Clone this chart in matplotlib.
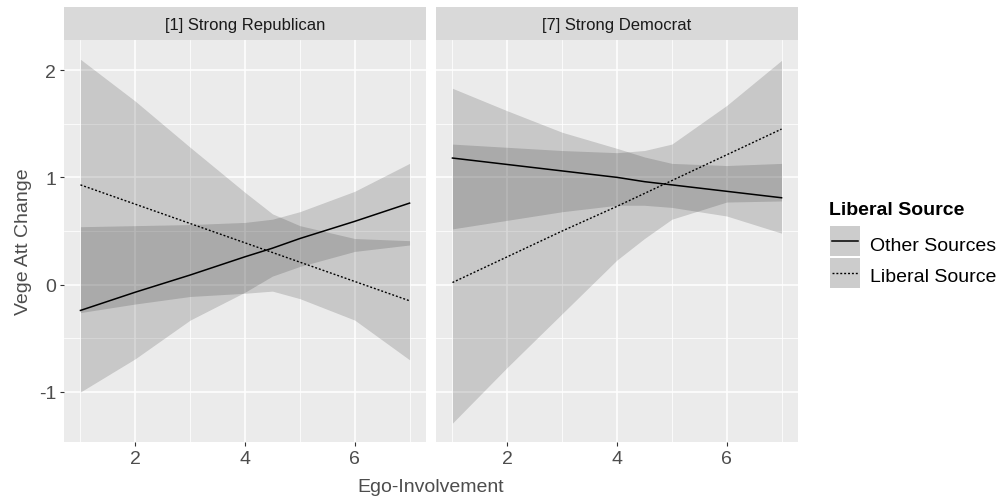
import matplotlib.pyplot as plt
from matplotlib.patches import Rectangle
from matplotlib.lines import Line2D

plt.rcParams['font.family'] = ['Liberation Sans', 'DejaVu Sans']

panels = ['[1] Strong Republican', '[7] Strong Democrat']
ego = [1, 2, 3, 4, 4.5, 5, 6, 7]

# [1] Strong Republican
rep_other = [-0.24, -0.07, 0.09, 0.26, 0.34, 0.43, 0.59, 0.76]
rep_other_hi = [0.54, 0.55, 0.56, 0.58, 0.61, 0.68, 0.87, 1.13]
rep_other_lo = [-1.00, -0.69, -0.33, -0.07, 0.08, 0.17, 0.31, 0.37]
rep_lib = [0.93, 0.75, 0.57, 0.39, 0.30, 0.21, 0.03, -0.15]
rep_lib_hi = [2.10, 1.71, 1.28, 0.86, 0.66, 0.55, 0.43, 0.41]
rep_lib_lo = [-0.26, -0.18, -0.11, -0.08, -0.06, -0.13, -0.33, -0.70]

# [7] Strong Democrat
dem_other = [1.18, 1.12, 1.06, 1.00, 0.96, 0.93, 0.87, 0.81]
dem_other_hi = [1.83, 1.62, 1.42, 1.27, 1.19, 1.13, 1.11, 1.13]
dem_other_lo = [0.52, 0.60, 0.68, 0.74, 0.74, 0.72, 0.64, 0.48]
dem_lib = [0.02, 0.26, 0.50, 0.73, 0.85, 0.97, 1.21, 1.45]
dem_lib_hi = [1.31, 1.28, 1.25, 1.23, 1.25, 1.31, 1.67, 2.09]
dem_lib_lo = [-1.29, -0.77, -0.27, 0.23, 0.43, 0.61, 0.77, 0.78]

series = [
    (rep_other, rep_other_lo, rep_other_hi, rep_lib, rep_lib_lo, rep_lib_hi),
    (dem_other, dem_other_lo, dem_other_hi, dem_lib, dem_lib_lo, dem_lib_hi),
]
legend_labels = ['Other Sources', 'Liberal Source']

W, H = 1002, 502
fig = plt.figure(figsize=(W / 100, H / 100), dpi=100)
lefts = [64, 436]
pw = 362
top, bottom = 41, 443
dotted = (0, (1.4, 1.4))


def fx(px):
    return px / W


def fy(py):
    return 1 - py / H


for i, (name, s) in enumerate(zip(panels, series)):
    ax = fig.add_axes([fx(lefts[i]), fy(bottom), pw / W, (bottom - top) / H])
    ax.set_facecolor('#EBEBEB')
    for sp in ax.spines.values():
        sp.set_visible(False)
    ax.set_xlim(0.7, 7.3)
    ax.set_ylim(-1.466, 2.28)
    for v in [1, 3, 5, 7]:
        ax.axvline(v, color='white', lw=0.55, zorder=0)
    for v in [2, 4, 6]:
        ax.axvline(v, color='white', lw=1.1, zorder=0)
    for v in [-0.5, 0.5, 1.5]:
        ax.axhline(v, color='white', lw=0.55, zorder=0)
    for v in [-1, 0, 1, 2]:
        ax.axhline(v, color='white', lw=1.1, zorder=0)

    oth, oth_lo, oth_hi, lib, lib_lo, lib_hi = s
    ax.fill_between(ego, oth_lo, oth_hi, color='black', alpha=0.15, lw=0, zorder=1)
    ax.fill_between(ego, lib_lo, lib_hi, color='black', alpha=0.15, lw=0, zorder=1)
    ax.plot(ego, oth, color='black', lw=1.1, zorder=3)
    ax.plot(ego, lib, color='black', lw=1.0, ls=dotted, zorder=3)

    ax.set_xticks([2, 4, 6])
    ax.set_xticklabels(['2', '4', '6'])
    ax.tick_params(axis='both', length=3, width=0.8, color='#333333',
                   labelsize=14, labelcolor='#4D4D4D', pad=2.5)
    if i == 0:
        ax.set_yticks([-1, 0, 1, 2])
        ax.set_yticklabels(['-1', '0', '1', '2'])
    else:
        ax.set_yticks([])

    # facet strip
    st = fig.add_axes([fx(lefts[i]), fy(top), pw / W, 33 / H])
    st.set_facecolor('#D9D9D9')
    st.set_xticks([])
    st.set_yticks([])
    for sp in st.spines.values():
        sp.set_visible(False)
    st.text(0.5, 0.48, name, ha='center', va='center', fontsize=12,
            color='#1A1A1A', transform=st.transAxes)

fig.text(fx(431), fy(488), 'Ego-Involvement', ha='center', va='center',
         fontsize=14, color='#4D4D4D')
fig.text(fx(24), fy(242), 'Vege Att Change', ha='center', va='center',
         rotation=90, fontsize=14, color='#4D4D4D')

# legend, ggplot style
fig.text(fx(829), fy(215), 'Liberal Source', ha='left', va='baseline',
         fontsize=14, fontweight='bold', color='black')
key_styles = [dict(ls='-', lw=1.1), dict(ls=dotted, lw=1.0)]
for k, (lab, sty) in enumerate(zip(legend_labels, key_styles)):
    ky = 227 + k * 32
    fig.add_artist(Rectangle((fx(830), fy(ky + 30)), 30 / W, 30 / H,
                             transform=fig.transFigure, facecolor='#CCCCCC',
                             edgecolor='none'))
    fig.add_artist(Line2D([fx(832), fx(858)], [fy(ky + 15), fy(ky + 15)],
                          transform=fig.transFigure, color='black', **sty))
    fig.text(fx(870), fy(251 + k * 31), lab, ha='left', va='baseline',
             fontsize=14, color='black')

fig.savefig('out.png', dpi=100)
